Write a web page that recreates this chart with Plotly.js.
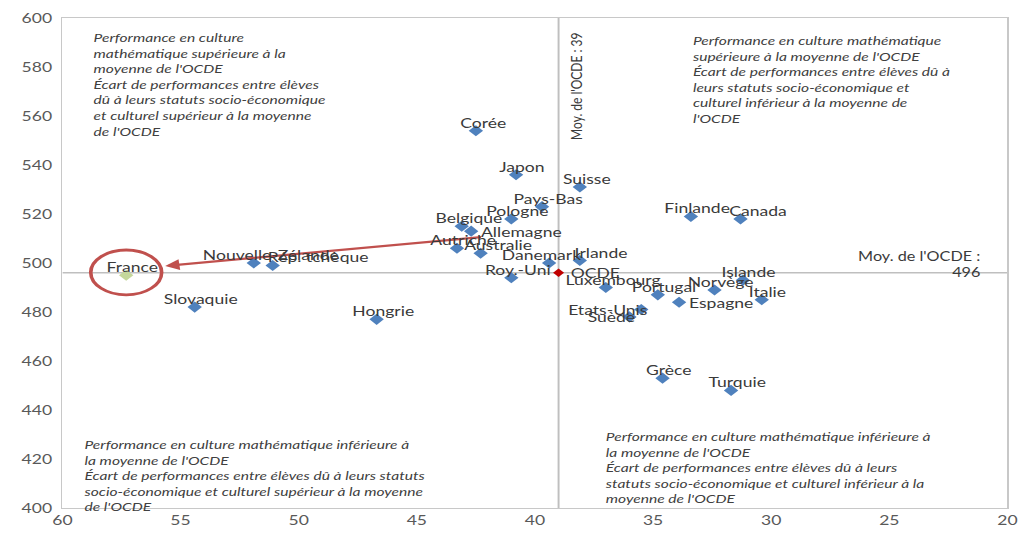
<!DOCTYPE html>
<html><head><meta charset="utf-8">
<script src="https://cdn.plot.ly/plotly-3.0.1.min.js"></script>
<style>
html,body{margin:0;padding:0;background:#fff;overflow:hidden}
#chart{width:785px;height:533px;transform:scaleX(1.3);transform-origin:0 0}
</style>
</head><body><div id="chart"></div>
<script>
// Countries, socio-economic gap (x) and math performance (y)
const countries = ["Corée","Japon","Suisse","Pays-Bas","Pologne","Belgique","Allemagne","Autriche","Australie","Danemark","Irlande","Roy.-Uni","Luxembourg","Nouvelle-Zélande","Rép. tchèque","Slovaquie","Hongrie","Finlande","Canada","Islande","Norvège","Portugal","Espagne","Italie","Etats-Unis","Suède","Grèce","Turquie"];
const gapValues = [42.5,40.8,38.1,39.7,41.0,43.1,42.7,43.3,42.3,39.4,38.1,41.0,37.0,51.9,51.1,54.4,46.7,33.4,31.3,31.2,32.4,34.8,33.9,30.4,35.5,36.0,34.6,31.7];
const mathScores = [554,536,531,523,518,515,513,506,504,500,501,494,490,500,499,482,477,519,518,493,489,487,484,485,481,478,453,448];

const franceLabel = ["France"];
const franceGap = [57.3];
const franceScore = [495];

const oecdLabel = ["OCDE"];
const oecdGap = [39];
const oecdScore = [496];

const xTicks = [60,55,50,45,40,35,30,25,20];
const yTicks = [400,420,440,460,480,500,520,540,560,580,600];

// label placement style (one per country)
const labelPos = ["top","top","top","top","top","top","right","top","topr","topw","topl","top","top","topr","topl","top","top","top","topr","top","top","top","right","top","left","left","top","top"];

const FONT = "Lato";
const labelFont = {family:FONT, size:13.5, color:"#3a3a3a"};
const noteFont = {family:FONT, size:12, color:"#404040", style:"italic"};
const tickFont = {family:FONT, size:13.5, color:"#595959"};

const placement = {
  top:  {xanchor:"center", xshift:5,  yshift:8},
  topw: {xanchor:"center", xshift:-6, yshift:8},
  topr: {xanchor:"center", xshift:13, yshift:8},
  topl: {xanchor:"left",   xshift:-5, yshift:8},
  right:{xanchor:"left",   xshift:7,  yshift:-1},
  left: {xanchor:"right",  xshift:6,  yshift:0}
};

const traces = [
  {type:"scatter", mode:"markers", x:gapValues, y:mathScores, text:countries,
   marker:{symbol:"diamond", size:8.5, color:"#4F81BD"}, hoverinfo:"text"},
  {type:"scatter", mode:"markers", x:franceGap, y:franceScore, text:franceLabel,
   marker:{symbol:"diamond", size:8.5, color:"#C4D79B"}},
  {type:"scatter", mode:"markers", x:oecdGap, y:oecdScore, text:oecdLabel,
   marker:{symbol:"diamond", size:6.5, color:"#C00000"}}
];

const labelAnns = countries.map((c, i) => Object.assign(
  {xref:"x", yref:"y", x:gapValues[i], y:mathScores[i], text:c, showarrow:false, yanchor:"middle", font:labelFont, borderpad:0},
  placement[labelPos[i]]));
labelAnns.push(Object.assign({xref:"x", yref:"y", x:franceGap[0], y:franceScore[0], text:franceLabel[0], showarrow:false, yanchor:"middle", font:labelFont, borderpad:0}, placement.top));
labelAnns.push({xref:"x", yref:"y", x:oecdGap[0], y:oecdScore[0], text:oecdLabel[0], showarrow:false, yanchor:"middle", xanchor:"left", xshift:8, yshift:0, font:labelFont, borderpad:0});

const meanX = oecdGap[0], meanY = oecdScore[0];

const layout = {
  width:785, height:533, showlegend:false,
  margin:{l:48, r:10, t:18, b:25},
  paper_bgcolor:"#fff", plot_bgcolor:"#fff",
  xaxis:{range:[60,20], tickvals:xTicks, showgrid:false, zeroline:false, showline:true, mirror:true, linecolor:"#c8c8c8", linewidth:1.2,
         ticks:"", tickfont:tickFont},
  yaxis:{range:[400,600], tickvals:yTicks, showgrid:false, zeroline:false, showline:true, mirror:true, linecolor:"#c8c8c8", linewidth:1.2,
         ticks:"", tickfont:tickFont, ticklabelstandoff:4},
  shapes:[
    {type:"line", xref:"x", yref:"y", x0:meanX, x1:meanX, y0:400, y1:600, line:{color:"#bfbfbf", width:1.5}, layer:"below"},
    {type:"line", xref:"x", yref:"y", x0:60, x1:20, y0:meanY, y1:meanY, line:{color:"#bfbfbf", width:1.5}, layer:"below"},
    {type:"circle", xref:"x", yref:"y", x0:58.8, x1:55.8, y0:487, y1:505.3, line:{color:"#C0504D", width:2.8}}
  ],
  annotations:[
    {xref:"x", yref:"y", x:55.65, y:498.8, ax:42.2, ay:510.6, axref:"x", ayref:"y", showarrow:true, arrowhead:2, arrowsize:1, arrowwidth:2.2, arrowcolor:"#C0504D", text:""},
    {xref:"x", yref:"y", x:58.8, y:596, xanchor:"left", yanchor:"top", align:"left", showarrow:false, font:noteFont,
     text:"Performance en culture<br>mathématique supérieure à la<br>moyenne de l'OCDE<br>Écart de performances entre élèves<br>dû à leurs statuts socio-économique<br>et culturel supérieur à la moyenne<br>de l'OCDE"},
    {xref:"x", yref:"y", x:33.4, y:594.5, xanchor:"left", yanchor:"top", align:"left", showarrow:false, font:noteFont,
     text:"Performance en culture mathématique<br>supérieure à la moyenne de l'OCDE<br>Écart de performances entre élèves dû à<br>leurs statuts socio-économique et<br>culturel inférieur à la moyenne de<br>l'OCDE"},
    {xref:"x", yref:"y", x:59.16, y:430, xanchor:"left", yanchor:"top", align:"left", showarrow:false, font:noteFont,
     text:"Performance en culture mathématique inférieure à<br>la moyenne de l'OCDE<br>Écart de performances entre élèves dû à leurs statuts<br>socio-économique et culturel supérieur à la moyenne<br>de l'OCDE"},
    {xref:"x", yref:"y", x:37.1, y:433, xanchor:"left", yanchor:"top", align:"left", showarrow:false, font:noteFont,
     text:"Performance en culture mathématique inférieure à<br>la moyenne de l'OCDE<br>Écart de performances entre élèves dû à leurs<br>statuts socio-économique et culturel inférieur à la<br>moyenne de l'OCDE"},
    {xref:"x", yref:"y", x:38.25, y:572, textangle:-90, showarrow:false, font:{family:FONT, size:12, color:"#3a3a3a"},
     text:"Moy. de l'OCDE : " + meanX},
    {xref:"x", yref:"y", x:21.05, y:499.2, xanchor:"right", align:"right", showarrow:false, font:{family:FONT, size:12.5, color:"#3a3a3a"},
     text:"Moy. de l'OCDE :<br>" + meanY}
  ].concat(labelAnns)
};

Plotly.newPlot("chart", traces, layout, {displayModeBar:false, staticPlot:true});
</script></body></html>
